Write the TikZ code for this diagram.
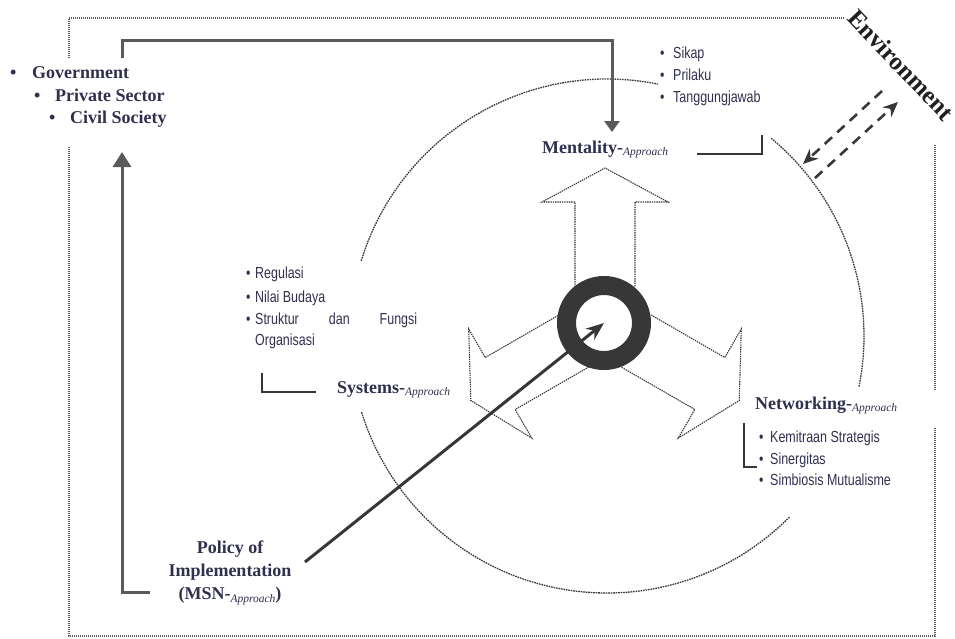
\documentclass[tikz,border=0pt]{standalone}
\usepackage{fontspec}
\setmainfont{Liberation Serif}
\newfontfamily\narrowf[FakeStretch=0.78]{Liberation Sans}
\usetikzlibrary{arrows.meta}
\definecolor{txt}{RGB}{48,48,78}
\definecolor{ink}{RGB}{55,55,55}
\definecolor{lin}{RGB}{90,90,90}
\definecolor{ringc}{RGB}{55,55,55}
\newcommand{\apprtxt}{{\fontsize{11.5}{12}\selectfont\mdseries\itshape\raisebox{-2.5pt}{Approach}}}
\tikzset{
  frameline/.style={draw=lin, line width=1.2pt, dash pattern=on 1pt off 1pt},
  circline/.style={draw=ink, line width=1.3pt, dash pattern=on 1.6pt off 0.9pt},
  arrowshape/.style={draw=ink, line width=1.1pt, dash pattern=on 1.4pt off 0.9pt, fill=white},
  conn/.style={draw=lin, line width=3pt},
  brk/.style={draw=ink, line width=2pt},
  envarrow/.style={draw=ink, line width=2.6pt, dash pattern=on 10pt off 7pt, -{Stealth[length=15pt,width=13pt]}},
  maintxt/.style={text=txt, font=\fontsize{18}{23}\selectfont\bfseries, inner sep=0pt},
  listtxt/.style={text=txt, font=\narrowf\fontsize{16}{22}\selectfont, inner sep=0pt, anchor=base west},
}
\begin{document}
\begin{tikzpicture}[x=1pt,y=-1pt]
\useasboundingbox (0,0) rectangle (955,638);

% outer dotted frame
\draw[frameline] (69,58) -- (69,18) -- (845,18);
\draw[frameline] (69,147) -- (69,636) -- (935,636) -- (935,428);
\draw[frameline] (935,390) -- (935,145);

% Environment
\node[text=black!88, font=\fontsize{25}{25}\selectfont\bfseries, rotate=-46.5, inner sep=0pt] (env) at (901,65) {Environment};

% big dotted circle (three arcs)
\draw[circline] (607,336) ++(-163:257) arc[start angle=-163, end angle=-78.6, radius=257];
\draw[circline] (607,336) ++(-50.3:257) arc[start angle=-50.3, end angle=11.5, radius=257];
\draw[circline] (607,336) ++(44.8:257) arc[start angle=44.8, end angle=162.8, radius=257];

% three hollow arrows
\foreach \r/\nm in {0/up,120/ll,-120/lr}{
  \begin{scope}[shift={(605,323)}, rotate=\r]
    \draw[arrowshape] (-30,-36) -- (-30,-121) -- (-63,-121) -- (0,-155) -- (63,-121) -- (30,-121) -- (30,-36);
  \end{scope}
}

% central ring
\node[circle, draw=ringc, line width=19pt, minimum size=75pt, inner sep=0pt] (ring) at (604,323) {};

% left list
\node[maintxt, anchor=base west] (gov) at (10,78) {\makebox[22pt][l]{\textbullet}Government};
\node[maintxt, anchor=base west] (priv) at (34,101) {\makebox[21pt][l]{\textbullet}Private Sector};
\node[maintxt, anchor=base west] (civ) at (49,123) {\makebox[21pt][l]{\textbullet}Civil Society};

% approach labels
\node[maintxt, anchor=base west] (ment) at (542,153) {Mentality-\apprtxt};
\node[maintxt, anchor=base west] (sys) at (337,393) {Systems-\apprtxt};
\node[maintxt, anchor=base west] (net) at (755,409) {Networking-\apprtxt};
\node[maintxt, align=center] (pol) at (230,573) {Policy of\\Implementation\\(MSN-\apprtxt)};

% top-right list
\node[listtxt] (sikap) at (660,58.5) {\makebox[13pt][l]{\textbullet}Sikap};
\node[listtxt] (prilaku) at (660,80.5) {\makebox[13pt][l]{\textbullet}Prilaku};
\node[listtxt] (tanggung) at (660,102.5) {\makebox[13pt][l]{\textbullet}Tanggungjawab};

% left-middle list
\node[listtxt] (regulasi) at (246,278.5) {\makebox[9pt][l]{\textbullet}Regulasi};
\node[listtxt] (nilai) at (246,302.5) {\makebox[9pt][l]{\textbullet}Nilai Budaya};
\node[listtxt] (struktur) at (246,324.5) {\makebox[9pt][l]{\textbullet}\makebox[162pt][s]{Struktur dan Fungsi}};
\node[listtxt] (organisasi) at (255,345.5) {Organisasi};

% networking list
\node[listtxt] (kemitraan) at (759,442.5) {\makebox[11pt][l]{\textbullet}Kemitraan Strategis};
\node[listtxt] (sinergitas) at (759,464.5) {\makebox[11pt][l]{\textbullet}Sinergitas};
\node[listtxt] (simbiosis) at (759,485.5) {\makebox[11pt][l]{\textbullet}Simbiosis Mutualisme};

% brackets
\draw[brk] (697,154) -- (762,154) -- (762,135);
\draw[brk] (262,373) -- (262,392) -- (316,392);
\draw[brk] (744,423) -- (744,467) -- (757,467);

% connectors
\coordinate (topstart) at (122,58);
\coordinate (mentin) at (612,132);
\draw[conn, -{Triangle[length=11pt,width=15pt]}] (topstart) -- (122,40) -- (612,40) -- (mentin);
\coordinate (footend) at (150,592);
\coordinate (civin) at (122,152);
\draw[conn, -{Triangle[length=15pt,width=18pt]}] (footend) -- (122,592) -- (civin);

% policy arrow to the ring centre
\coordinate (polout) at (305,562);
\draw[draw=ink, line width=3pt, -{Stealth[length=18pt,width=14pt]}] (polout) -- (ring.center);

% environment double dashed arrows
\coordinate (envA1) at (882,91);
\coordinate (envA2) at (803,164);
\coordinate (envB1) at (815,178);
\coordinate (envB2) at (898,102);
\draw[envarrow] (envA1) -- (envA2);
\draw[envarrow] (envB1) -- (envB2);
\end{tikzpicture}
\end{document}
